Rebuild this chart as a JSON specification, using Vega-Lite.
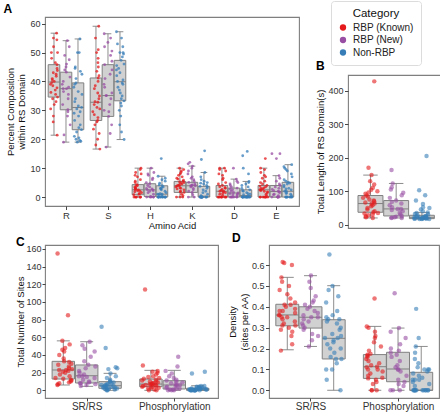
{
  "$schema": "https://vega.github.io/schema/vega-lite/v6.json",
  "padding": {"left": 2, "top": 0, "right": 0, "bottom": 0},
  "background": "white",
  "spacing": 0,
  "config": {
    "font": "Liberation Sans",
    "view": {"stroke": "#7f7f7f", "strokeWidth": 1.1},
    "axis": {"domain": false, "grid": false, "tickColor": "#333333", "tickSize": 3.5, "tickWidth": 0.9, "labelColor": "#333333", "labelFontSize": 9, "labelPadding": 1.5, "labelOverlap": false, "labelSeparation": 0, "titleFontSize": 9.5, "titleFontWeight": "normal", "titleColor": "#111111", "titlePadding": 2},
    "title": {"anchor": "start", "frame": "bounds", "fontSize": 12, "fontWeight": "bold", "color": "#000000", "offset": 2},
    "legend": {"orient": "none", "legendX": 286, "legendY": -16, "titleFontSize": 11.5, "titleFontWeight": "normal", "titleColor": "#111111", "titleAnchor": "middle", "labelFontSize": 10, "labelColor": "#222222", "symbolType": "circle", "symbolSize": 40, "symbolOpacity": 1, "symbolStrokeWidth": 0, "padding": 7, "strokeColor": "#dcdcdc", "fillColor": "white", "cornerRadius": 3, "rowPadding": 2.5, "titlePadding": 3, "labelOffset": 5}
  },
  "vconcat": [
    {
      "spacing": 15,
      "hconcat": [
        {
          "width": 254,
          "height": 189,
          "title": {"text": "A", "dx": -2, "offset": 1},
          "resolve": {"axis": {"x": "independent", "y": "independent"}},
          "layer": [
            {
              "data": {"values": "a,c,lo,q1,md,q3,hi\nR,K,21.4,34.6,39.8,45.8,56.7\nR,N,19.0,30.2,37.5,43.2,54.1\nR,O,19.0,23.3,31.0,39.5,54.7\nS,K,16.6,26.5,32.8,41.2,59.1\nS,N,17.3,27.9,35.1,45.8,56.5\nS,O,19.9,33.3,39.9,47.3,57.2\nH,K,0,0.8,2.5,4.3,10.0\nH,N,0,0.2,2.5,4.6,10.0\nH,O,0,0,1.0,3.9,7.2\nK,K,0,1.6,3.9,5.4,10.0\nK,N,0,1.6,3.9,5.1,10.7\nK,O,0,0,0.3,3.7,8.5\nD,K,0,0,2.0,4.0,10.0\nD,N,0,0,1.4,3.1,6.2\nD,O,0,0,0.5,2.5,5.4\nE,K,0,0,2.5,4.0,10.0\nE,N,0,0,1.9,4.0,7.4\nE,O,0,0,2.0,5.1,11.2", "format": {"type": "csv", "parse": {"lo": "number", "q1": "number", "md": "number", "q3": "number", "hi": "number"}}},
              "transform": [
                {"calculate": "indexof(['R','S','H','K','D','E'], datum.a) + 1 + (datum.c == 'K' ? -0.286 : datum.c == 'N' ? 0 : 0.286)", "as": "xc"},
                {"calculate": "datum.xc - 0.138", "as": "xl"},
                {"calculate": "datum.xc + 0.138", "as": "xr"},
                {"calculate": "datum.xc - 0.08", "as": "cl"},
                {"calculate": "datum.xc + 0.08", "as": "cr"}
              ],
              "resolve": {"axis": {"x": "independent", "y": "independent"}},
              "layer": [
                {"mark": {"type": "rule", "color": "#808080", "strokeWidth": 0.9}, "encoding": {
                  "x": {"field": "xc", "type": "quantitative", "scale": {"domain": [0.5, 6.55], "zero": false, "nice": false}, "axis": {"values": [1, 2, 3, 4, 5, 6], "labelExpr": "['','R','S','H','K','D','E'][datum.value]", "title": "Amino Acid", "labelFontSize": 9.5, "labelPadding": 1, "titlePadding": 0, "labelOverlap": false}},
                  "y": {"field": "lo", "type": "quantitative", "scale": {"domain": [-3.1, 62.3], "zero": false, "nice": false}, "axis": {"values": [0, 10, 20, 30, 40, 50, 60], "title": ["Percent Composition", "within RS Domain"], "titlePadding": 3, "labelOverlap": false}},
                  "y2": {"field": "hi"}}},
                {"mark": {"type": "rule", "color": "#808080", "strokeWidth": 0.9}, "encoding": {
                  "x": {"field": "cl", "type": "quantitative", "scale": {"domain": [0.5, 6.55], "zero": false, "nice": false}, "axis": null},
                  "x2": {"field": "cr"},
                  "y": {"field": "lo", "type": "quantitative", "scale": {"domain": [-3.1, 62.3], "zero": false, "nice": false}, "axis": null}}},
                {"mark": {"type": "rule", "color": "#808080", "strokeWidth": 0.9}, "encoding": {
                  "x": {"field": "cl", "type": "quantitative", "scale": {"domain": [0.5, 6.55], "zero": false, "nice": false}, "axis": null},
                  "x2": {"field": "cr"},
                  "y": {"field": "hi", "type": "quantitative", "scale": {"domain": [-3.1, 62.3], "zero": false, "nice": false}, "axis": null}}},
                {"mark": {"type": "rect", "fill": "#d1d1d1", "stroke": "#808080", "strokeWidth": 1}, "encoding": {
                  "x": {"field": "xl", "type": "quantitative", "scale": {"domain": [0.5, 6.55], "zero": false, "nice": false}, "axis": null},
                  "x2": {"field": "xr"},
                  "y": {"field": "q1", "type": "quantitative", "scale": {"domain": [-3.1, 62.3], "zero": false, "nice": false}, "axis": null},
                  "y2": {"field": "q3"}}},
                {"mark": {"type": "rule", "color": "#808080", "strokeWidth": 1}, "encoding": {
                  "x": {"field": "xl", "type": "quantitative", "scale": {"domain": [0.5, 6.55], "zero": false, "nice": false}, "axis": null},
                  "x2": {"field": "xr"},
                  "y": {"field": "md", "type": "quantitative", "scale": {"domain": [-3.1, 62.3], "zero": false, "nice": false}, "axis": null}}}
              ]
            },
            {
              "data": {"values": "a,c,v\nR,K,21.4\nR,K,26\nR,K,28\nR,K,30.5\nR,K,32\nR,K,33\nR,K,34\nR,K,34.6\nR,K,35.5\nR,K,36.2\nR,K,37\nR,K,37.8\nR,K,38.5\nR,K,39\nR,K,39.6\nR,K,40\nR,K,40.5\nR,K,41\nR,K,41.8\nR,K,42.5\nR,K,43\nR,K,43.8\nR,K,44.5\nR,K,45.8\nR,K,46.5\nR,K,48\nR,K,50\nR,K,50\nR,K,52\nR,K,54.4\nR,K,55\nR,K,56.7\nR,N,19\nR,N,21.5\nR,N,25\nR,N,28\nR,N,29.5\nR,N,30.2\nR,N,32\nR,N,34\nR,N,35.5\nR,N,36.5\nR,N,37.5\nR,N,37.5\nR,N,38\nR,N,39\nR,N,40\nR,N,41.5\nR,N,43.2\nR,N,44\nR,N,45\nR,N,46\nR,N,47.5\nR,N,49\nR,N,52\nR,N,54.1\nR,O,19\nR,O,19.3\nR,O,19.6\nR,O,20\nR,O,20.5\nR,O,21\nR,O,22.5\nR,O,23.3\nR,O,24\nR,O,25\nR,O,26.5\nR,O,28\nR,O,29\nR,O,29.5\nR,O,30.5\nR,O,31\nR,O,31.5\nR,O,33\nR,O,34\nR,O,35.5\nR,O,36.5\nR,O,38\nR,O,39\nR,O,39.5\nR,O,41\nR,O,42.5\nR,O,43.5\nR,O,44.5\nR,O,45\nR,O,50\nR,O,50\nR,O,54.7\nS,K,16.6\nS,K,18\nS,K,20\nS,K,22\nS,K,23.5\nS,K,25\nS,K,26\nS,K,26.5\nS,K,27.5\nS,K,28.5\nS,K,29.5\nS,K,30.5\nS,K,31\nS,K,32\nS,K,32.8\nS,K,33\nS,K,34\nS,K,35\nS,K,36\nS,K,37.5\nS,K,38.5\nS,K,40\nS,K,41.2\nS,K,42\nS,K,43.5\nS,K,45\nS,K,46.5\nS,K,48\nS,K,50\nS,K,51\nS,K,55\nS,K,59.1\nS,N,17.3\nS,N,22\nS,N,25\nS,N,27.9\nS,N,29.5\nS,N,30\nS,N,32\nS,N,34\nS,N,35.1\nS,N,35.1\nS,N,36\nS,N,38\nS,N,39\nS,N,41\nS,N,42.5\nS,N,44\nS,N,45.8\nS,N,47\nS,N,49\nS,N,50.5\nS,N,52\nS,N,53.5\nS,N,55\nS,N,56.5\nS,O,19.9\nS,O,22.5\nS,O,25\nS,O,28\nS,O,30\nS,O,31.5\nS,O,32.5\nS,O,33.3\nS,O,34\nS,O,35\nS,O,36\nS,O,37\nS,O,38\nS,O,39\nS,O,39.5\nS,O,40\nS,O,40.5\nS,O,42\nS,O,43\nS,O,44\nS,O,44.5\nS,O,45.5\nS,O,46\nS,O,47.3\nS,O,48.5\nS,O,49.5\nS,O,50\nS,O,50\nS,O,52\nS,O,53\nS,O,55\nS,O,57.2\nH,K,0\nH,K,0\nH,K,0\nH,K,0\nH,K,0\nH,K,0\nH,K,0\nH,K,0.8\nH,K,1\nH,K,1.2\nH,K,1.5\nH,K,1.8\nH,K,2\nH,K,2.2\nH,K,2.5\nH,K,2.5\nH,K,2.8\nH,K,3\nH,K,3.2\nH,K,3.5\nH,K,3.8\nH,K,4\nH,K,4.3\nH,K,5\nH,K,5.5\nH,K,6\nH,K,7\nH,K,7.5\nH,K,8\nH,K,8.5\nH,K,9.5\nH,K,10\nH,N,0\nH,N,0\nH,N,0\nH,N,0\nH,N,0\nH,N,0.2\nH,N,1\nH,N,1.5\nH,N,2\nH,N,2.2\nH,N,2.5\nH,N,2.5\nH,N,2.8\nH,N,3\nH,N,3.5\nH,N,4\nH,N,4.6\nH,N,5\nH,N,6\nH,N,6.5\nH,N,7.5\nH,N,8\nH,N,8.5\nH,N,10\nH,O,0\nH,O,0\nH,O,0\nH,O,0\nH,O,0\nH,O,0\nH,O,0\nH,O,0\nH,O,0\nH,O,0\nH,O,0\nH,O,0\nH,O,0.5\nH,O,0.8\nH,O,1\nH,O,1\nH,O,1.2\nH,O,1.5\nH,O,2\nH,O,2.5\nH,O,2.8\nH,O,3\nH,O,3.2\nH,O,3.5\nH,O,3.9\nH,O,4.2\nH,O,4.8\nH,O,5.5\nH,O,6\nH,O,6.5\nH,O,7.2\nH,O,13.3\nK,K,0\nK,K,0\nK,K,0\nK,K,0.5\nK,K,1\nK,K,1.6\nK,K,1.8\nK,K,2\nK,K,2.5\nK,K,2.8\nK,K,3\nK,K,3.2\nK,K,3.5\nK,K,3.8\nK,K,3.9\nK,K,4\nK,K,4.2\nK,K,4.5\nK,K,4.8\nK,K,5\nK,K,5.2\nK,K,5.4\nK,K,5.8\nK,K,6.2\nK,K,6.5\nK,K,7\nK,K,7.5\nK,K,8\nK,K,8.5\nK,K,9\nK,K,9.5\nK,K,10\nK,N,0\nK,N,0\nK,N,0.8\nK,N,1.6\nK,N,2\nK,N,2.5\nK,N,3\nK,N,3.5\nK,N,3.9\nK,N,3.9\nK,N,4\nK,N,4.2\nK,N,4.5\nK,N,5.1\nK,N,5.5\nK,N,6\nK,N,6.5\nK,N,7\nK,N,8\nK,N,9\nK,N,10\nK,N,10.7\nK,N,11.5\nK,N,12\nK,O,0\nK,O,0\nK,O,0\nK,O,0\nK,O,0\nK,O,0\nK,O,0\nK,O,0\nK,O,0\nK,O,0\nK,O,0\nK,O,0\nK,O,0\nK,O,0\nK,O,0.5\nK,O,1\nK,O,1.5\nK,O,2\nK,O,2.5\nK,O,3\nK,O,3.5\nK,O,3.7\nK,O,4\nK,O,4.5\nK,O,4.8\nK,O,5\nK,O,5.5\nK,O,6\nK,O,7\nK,O,8.5\nK,O,13\nK,O,16\nD,K,0\nD,K,0\nD,K,0\nD,K,0\nD,K,0\nD,K,0\nD,K,0\nD,K,0\nD,K,0\nD,K,0.5\nD,K,1\nD,K,1.2\nD,K,1.5\nD,K,1.8\nD,K,2\nD,K,2\nD,K,2.3\nD,K,2.6\nD,K,3\nD,K,3.3\nD,K,3.6\nD,K,4\nD,K,4.5\nD,K,5\nD,K,6\nD,K,6.5\nD,K,7.5\nD,K,8\nD,K,9\nD,K,9.5\nD,K,10\nD,K,10\nD,N,0\nD,N,0\nD,N,0\nD,N,0\nD,N,0\nD,N,0\nD,N,0\nD,N,0.5\nD,N,0.8\nD,N,1\nD,N,1.2\nD,N,1.4\nD,N,1.6\nD,N,2\nD,N,2.5\nD,N,2.8\nD,N,3.1\nD,N,3.5\nD,N,4\nD,N,4.5\nD,N,5\nD,N,5.5\nD,N,6.2\nD,N,10\nD,O,0\nD,O,0\nD,O,0\nD,O,0\nD,O,0\nD,O,0\nD,O,0\nD,O,0\nD,O,0\nD,O,0\nD,O,0\nD,O,0\nD,O,0\nD,O,0\nD,O,0.5\nD,O,0.8\nD,O,1\nD,O,1.2\nD,O,1.5\nD,O,2\nD,O,2.2\nD,O,2.5\nD,O,3\nD,O,3.5\nD,O,4\nD,O,4.5\nD,O,5\nD,O,5.4\nD,O,8\nD,O,10\nD,O,14.3\nD,O,15.8\nE,K,0\nE,K,0\nE,K,0\nE,K,0\nE,K,0\nE,K,0\nE,K,0\nE,K,0\nE,K,0.5\nE,K,1\nE,K,1.5\nE,K,1.8\nE,K,2\nE,K,2.2\nE,K,2.5\nE,K,2.5\nE,K,2.8\nE,K,3\nE,K,3.2\nE,K,3.5\nE,K,3.8\nE,K,4\nE,K,4.5\nE,K,5\nE,K,5.5\nE,K,6.5\nE,K,7\nE,K,7.5\nE,K,8.5\nE,K,9.5\nE,K,10\nE,K,13.3\nE,N,0\nE,N,0\nE,N,0\nE,N,0\nE,N,0\nE,N,0\nE,N,0.5\nE,N,0.8\nE,N,1\nE,N,1.5\nE,N,1.9\nE,N,2\nE,N,2.2\nE,N,2.6\nE,N,3\nE,N,3.5\nE,N,4\nE,N,4.5\nE,N,5.5\nE,N,6.5\nE,N,7.4\nE,N,13.3\nE,N,15\nE,N,15\nE,O,0\nE,O,0\nE,O,0\nE,O,0\nE,O,0\nE,O,0\nE,O,0\nE,O,0\nE,O,0\nE,O,0.5\nE,O,1\nE,O,1.2\nE,O,1.5\nE,O,2\nE,O,2\nE,O,2.5\nE,O,2.8\nE,O,3\nE,O,3.5\nE,O,4\nE,O,4.5\nE,O,4.8\nE,O,5.1\nE,O,5.5\nE,O,6\nE,O,7\nE,O,8\nE,O,9\nE,O,9.5\nE,O,10\nE,O,10.5\nE,O,11.2", "format": {"type": "csv", "parse": {"v": "number"}}},
              "transform": [
                {"window": [{"op": "row_number", "as": "rn"}]},
                {"calculate": "indexof(['R','S','H','K','D','E'], datum.a) + 1 + (datum.c == 'K' ? -0.286 : datum.c == 'N' ? 0 : 0.286) + ((abs(sin(datum.rn * 12.9898 + 1.7) * 43758.5453) % 1) - 0.5) * 0.2", "as": "xp"}
              ],
              "mark": {"type": "circle", "size": 8, "opacity": 0.75},
              "encoding": {
                "x": {"field": "xp", "type": "quantitative", "scale": {"domain": [0.5, 6.55], "zero": false, "nice": false}, "axis": null},
                "y": {"field": "v", "type": "quantitative", "scale": {"domain": [-3.1, 62.3], "zero": false, "nice": false}, "axis": null},
                "color": {"field": "c", "type": "nominal", "scale": {"domain": ["K", "N", "O"], "range": ["#E41A1C", "#984EA3", "#377EB8"]}, "legend": {"title": "Category", "labelExpr": "datum.label == 'K' ? 'RBP (Known)' : datum.label == 'N' ? 'RBP (New)' : 'Non-RBP'"}}
              }
            }
          ]
        },
        {
          "spacing": 0,
          "vconcat": [
            {
              "width": 95,
              "height": 42,
              "data": {"values": [{"k": 0}]},
              "mark": {"type": "point", "opacity": 0, "size": 1},
              "encoding": {},
              "view": {"stroke": null}
            },
            {
              "width": 95,
              "height": 153,
              "title": {"text": "B"},
              "resolve": {"axis": {"x": "independent", "y": "independent"}},
              "layer": [
                {
                  "data": {"values": "c,lo,q1,md,q3,hi\nK,20,37,63,87,148\nN,20,26,47,72,123\nO,17,18,22,28,36", "format": {"type": "csv", "parse": {"lo": "number", "q1": "number", "md": "number", "q3": "number", "hi": "number"}}},
                  "transform": [
                    {"calculate": "1 + (datum.c == 'K' ? -0.27 : datum.c == 'N' ? 0 : 0.27)", "as": "xc"},
                    {"calculate": "datum.xc - 0.131", "as": "xl"},
                    {"calculate": "datum.xc + 0.131", "as": "xr"},
                    {"calculate": "datum.xc - 0.076", "as": "cl"},
                    {"calculate": "datum.xc + 0.076", "as": "cr"}
                  ],
                  "resolve": {"axis": {"x": "independent", "y": "independent"}},
                  "layer": [
                    {"mark": {"type": "rule", "color": "#808080", "strokeWidth": 0.9}, "encoding": {
                      "x": {"field": "xc", "type": "quantitative", "scale": {"domain": [0.494, 1.492], "zero": false, "nice": false}, "axis": null},
                      "y": {"field": "lo", "type": "quantitative", "scale": {"domain": [-10, 447], "zero": false, "nice": false}, "axis": {"values": [0, 100, 200, 300, 400], "title": "Total Length of RS Domain(s)", "labelOverlap": false}},
                      "y2": {"field": "hi"}}},
                    {"mark": {"type": "rule", "color": "#808080", "strokeWidth": 0.9}, "encoding": {
                      "x": {"field": "cl", "type": "quantitative", "scale": {"domain": [0.494, 1.492], "zero": false, "nice": false}, "axis": null},
                      "x2": {"field": "cr"},
                      "y": {"field": "lo", "type": "quantitative", "scale": {"domain": [-10, 447], "zero": false, "nice": false}, "axis": null}}},
                    {"mark": {"type": "rule", "color": "#808080", "strokeWidth": 0.9}, "encoding": {
                      "x": {"field": "cl", "type": "quantitative", "scale": {"domain": [0.494, 1.492], "zero": false, "nice": false}, "axis": null},
                      "x2": {"field": "cr"},
                      "y": {"field": "hi", "type": "quantitative", "scale": {"domain": [-10, 447], "zero": false, "nice": false}, "axis": null}}},
                    {"mark": {"type": "rect", "fill": "#d1d1d1", "stroke": "#808080", "strokeWidth": 1}, "encoding": {
                      "x": {"field": "xl", "type": "quantitative", "scale": {"domain": [0.494, 1.492], "zero": false, "nice": false}, "axis": null},
                      "x2": {"field": "xr"},
                      "y": {"field": "q1", "type": "quantitative", "scale": {"domain": [-10, 447], "zero": false, "nice": false}, "axis": null},
                      "y2": {"field": "q3"}}},
                    {"mark": {"type": "rule", "color": "#808080", "strokeWidth": 1}, "encoding": {
                      "x": {"field": "xl", "type": "quantitative", "scale": {"domain": [0.494, 1.492], "zero": false, "nice": false}, "axis": null},
                      "x2": {"field": "xr"},
                      "y": {"field": "md", "type": "quantitative", "scale": {"domain": [-10, 447], "zero": false, "nice": false}, "axis": null}}}
                  ]
                },
                {
                  "data": {"values": "c,v\nK,20\nK,22\nK,25\nK,28\nK,30\nK,33\nK,35\nK,37\nK,40\nK,45\nK,50\nK,55\nK,58\nK,63\nK,63\nK,66\nK,70\nK,72\nK,75\nK,80\nK,84\nK,87\nK,92\nK,96\nK,100\nK,104\nK,110\nK,120\nK,130\nK,148\nK,170\nK,428\nN,20\nN,20\nN,21\nN,22\nN,24\nN,26\nN,30\nN,35\nN,40\nN,44\nN,47\nN,47\nN,52\nN,58\nN,63\nN,68\nN,72\nN,80\nN,88\nN,95\nN,105\nN,112\nN,123\nN,163\nO,17\nO,17\nO,17\nO,18\nO,18\nO,18\nO,18\nO,19\nO,19\nO,20\nO,20\nO,21\nO,22\nO,22\nO,23\nO,24\nO,25\nO,26\nO,28\nO,30\nO,32\nO,35\nO,36\nO,40\nO,45\nO,50\nO,52\nO,62\nO,72\nO,88\nO,103\nO,205", "format": {"type": "csv", "parse": {"v": "number"}}},
                  "transform": [
                    {"window": [{"op": "row_number", "as": "rn"}]},
                    {"calculate": "1 + (datum.c == 'K' ? -0.27 : datum.c == 'N' ? 0 : 0.27) + ((abs(sin(datum.rn * 12.9898 + 4.1) * 43758.5453) % 1) - 0.5) * 0.16", "as": "xp"}
                  ],
                  "mark": {"type": "circle", "size": 20, "opacity": 0.6},
                  "encoding": {
                    "x": {"field": "xp", "type": "quantitative", "scale": {"domain": [0.494, 1.492], "zero": false, "nice": false}, "axis": null},
                    "y": {"field": "v", "type": "quantitative", "scale": {"domain": [-10, 447], "zero": false, "nice": false}, "axis": null},
                    "color": {"field": "c", "type": "nominal", "scale": {"domain": ["K", "N", "O"], "range": ["#E41A1C", "#984EA3", "#377EB8"]}, "legend": {"title": "Category", "labelExpr": "datum.label == 'K' ? 'RBP (Known)' : datum.label == 'N' ? 'RBP (New)' : 'Non-RBP'"}}
                  }
                }
              ]
            }
          ]
        }
      ]
    },
    {
      "spacing": 8,
      "hconcat": [
        {
          "width": 173,
          "height": 153,
          "title": {"text": "C", "offset": -4.5},
          "resolve": {"axis": {"x": "independent", "y": "independent"}},
          "layer": [
            {
              "data": {"values": "g,c,lo,q1,md,q3,hi\nS,K,6,12.8,23,32.8,56\nS,N,4.5,8.3,16.5,28.7,55\nS,O,0,2.3,5.2,9.8,19.2\nP,K,0,4.1,7.1,12.8,22.6\nP,N,0,1.5,6,10.9,22.6\nP,O,0,0,1,2.3,5.2", "format": {"type": "csv", "parse": {"lo": "number", "q1": "number", "md": "number", "q3": "number", "hi": "number"}}},
              "transform": [
                {"calculate": "(datum.g == 'S' ? 1 : 2) + (datum.c == 'K' ? -0.267 : datum.c == 'N' ? 0 : 0.267)", "as": "xc"},
                {"calculate": "datum.xc - 0.128", "as": "xl"},
                {"calculate": "datum.xc + 0.128", "as": "xr"},
                {"calculate": "datum.xc - 0.074", "as": "cl"},
                {"calculate": "datum.xc + 0.074", "as": "cr"}
              ],
              "resolve": {"axis": {"x": "independent", "y": "independent"}},
              "layer": [
                {"mark": {"type": "rule", "color": "#808080", "strokeWidth": 0.9}, "encoding": {
                  "x": {"field": "xc", "type": "quantitative", "scale": {"domain": [0.524, 2.499], "zero": false, "nice": false}, "axis": {"values": [1, 2], "labelExpr": "datum.value == 1 ? 'SR/RS' : 'Phosphorylation'", "title": null, "labelFontSize": 10, "labelPadding": 0.5, "tickSize": 3, "labelOverlap": false}},
                  "y": {"field": "lo", "type": "quantitative", "scale": {"domain": [-8.7, 164.5], "zero": false, "nice": false}, "axis": {"values": [0, 20, 40, 60, 80, 100, 120, 140, 160], "title": "Total Number of Sites", "titlePadding": 0, "labelPadding": 1, "tickSize": 3, "labelOverlap": false}},
                  "y2": {"field": "hi"}}},
                {"mark": {"type": "rule", "color": "#808080", "strokeWidth": 0.9}, "encoding": {
                  "x": {"field": "cl", "type": "quantitative", "scale": {"domain": [0.524, 2.499], "zero": false, "nice": false}, "axis": null},
                  "x2": {"field": "cr"},
                  "y": {"field": "lo", "type": "quantitative", "scale": {"domain": [-8.7, 164.5], "zero": false, "nice": false}, "axis": null}}},
                {"mark": {"type": "rule", "color": "#808080", "strokeWidth": 0.9}, "encoding": {
                  "x": {"field": "cl", "type": "quantitative", "scale": {"domain": [0.524, 2.499], "zero": false, "nice": false}, "axis": null},
                  "x2": {"field": "cr"},
                  "y": {"field": "hi", "type": "quantitative", "scale": {"domain": [-8.7, 164.5], "zero": false, "nice": false}, "axis": null}}},
                {"mark": {"type": "rect", "fill": "#d1d1d1", "stroke": "#808080", "strokeWidth": 1}, "encoding": {
                  "x": {"field": "xl", "type": "quantitative", "scale": {"domain": [0.524, 2.499], "zero": false, "nice": false}, "axis": null},
                  "x2": {"field": "xr"},
                  "y": {"field": "q1", "type": "quantitative", "scale": {"domain": [-8.7, 164.5], "zero": false, "nice": false}, "axis": null},
                  "y2": {"field": "q3"}}},
                {"mark": {"type": "rule", "color": "#808080", "strokeWidth": 1}, "encoding": {
                  "x": {"field": "xl", "type": "quantitative", "scale": {"domain": [0.524, 2.499], "zero": false, "nice": false}, "axis": null},
                  "x2": {"field": "xr"},
                  "y": {"field": "md", "type": "quantitative", "scale": {"domain": [-8.7, 164.5], "zero": false, "nice": false}, "axis": null}}}
              ]
            },
            {
              "data": {"values": "g,c,v\nS,K,6\nS,K,7\nS,K,8\nS,K,9\nS,K,10\nS,K,11\nS,K,12\nS,K,13\nS,K,14\nS,K,16\nS,K,18\nS,K,20\nS,K,21\nS,K,22\nS,K,23\nS,K,23\nS,K,24\nS,K,25\nS,K,27\nS,K,29\nS,K,30\nS,K,32\nS,K,33\nS,K,36\nS,K,40\nS,K,44\nS,K,46\nS,K,48\nS,K,52\nS,K,56\nS,K,85\nS,K,155\nS,N,5\nS,N,6\nS,N,7\nS,N,8\nS,N,8\nS,N,9\nS,N,10\nS,N,12\nS,N,14\nS,N,15\nS,N,16\nS,N,16\nS,N,18\nS,N,20\nS,N,22\nS,N,25\nS,N,27\nS,N,29\nS,N,33\nS,N,38\nS,N,44\nS,N,47\nS,N,51\nS,N,55\nS,O,0\nS,O,0\nS,O,1\nS,O,1\nS,O,2\nS,O,2\nS,O,2\nS,O,3\nS,O,3\nS,O,3\nS,O,4\nS,O,4\nS,O,5\nS,O,5\nS,O,5\nS,O,6\nS,O,6\nS,O,7\nS,O,7\nS,O,8\nS,O,9\nS,O,10\nS,O,10\nS,O,12\nS,O,14\nS,O,16\nS,O,19\nS,O,24\nS,O,25\nS,O,26\nS,O,48\nS,O,72\nP,K,0\nP,K,0\nP,K,1\nP,K,2\nP,K,3\nP,K,3\nP,K,4\nP,K,4\nP,K,5\nP,K,5\nP,K,6\nP,K,6\nP,K,7\nP,K,7\nP,K,7\nP,K,8\nP,K,8\nP,K,9\nP,K,10\nP,K,10\nP,K,11\nP,K,12\nP,K,13\nP,K,14\nP,K,15\nP,K,16\nP,K,18\nP,K,20\nP,K,21\nP,K,22\nP,K,28\nP,K,114\nP,N,0\nP,N,0\nP,N,0\nP,N,1\nP,N,1\nP,N,2\nP,N,2\nP,N,3\nP,N,4\nP,N,5\nP,N,6\nP,N,6\nP,N,7\nP,N,8\nP,N,9\nP,N,10\nP,N,11\nP,N,12\nP,N,14\nP,N,16\nP,N,19\nP,N,22\nP,N,27\nP,N,38\nP,O,0\nP,O,0\nP,O,0\nP,O,0\nP,O,0\nP,O,0\nP,O,0\nP,O,0\nP,O,0\nP,O,1\nP,O,1\nP,O,1\nP,O,1\nP,O,1\nP,O,1\nP,O,1\nP,O,1\nP,O,2\nP,O,2\nP,O,2\nP,O,2\nP,O,2\nP,O,2\nP,O,3\nP,O,3\nP,O,3\nP,O,4\nP,O,4\nP,O,5\nP,O,5\nP,O,19\nP,O,21", "format": {"type": "csv", "parse": {"v": "number"}}},
              "transform": [
                {"window": [{"op": "row_number", "as": "rn"}]},
                {"calculate": "(datum.g == 'S' ? 1 : 2) + (datum.c == 'K' ? -0.267 : datum.c == 'N' ? 0 : 0.267) + ((abs(sin(datum.rn * 12.9898 + 7.3) * 43758.5453) % 1) - 0.5) * 0.2", "as": "xp"}
              ],
              "mark": {"type": "circle", "size": 20, "opacity": 0.6},
              "encoding": {
                "x": {"field": "xp", "type": "quantitative", "scale": {"domain": [0.524, 2.499], "zero": false, "nice": false}, "axis": null},
                "y": {"field": "v", "type": "quantitative", "scale": {"domain": [-8.7, 164.5], "zero": false, "nice": false}, "axis": null},
                "color": {"field": "c", "type": "nominal", "scale": {"domain": ["K", "N", "O"], "range": ["#E41A1C", "#984EA3", "#377EB8"]}, "legend": {"title": "Category", "labelExpr": "datum.label == 'K' ? 'RBP (Known)' : datum.label == 'N' ? 'RBP (New)' : 'Non-RBP'"}}
              }
            }
          ]
        },
        {
          "width": 170,
          "height": 153,
          "title": {"text": "D", "dx": 4, "offset": 0},
          "resolve": {"axis": {"x": "independent", "y": "independent"}},
          "layer": [
            {
              "data": {"values": "g,c,lo,q1,md,q3,hi\nS,K,0.194,0.309,0.361,0.412,0.541\nS,N,0.21,0.298,0.35,0.4,0.549\nS,O,0,0.15,0.249,0.338,0.501\nP,K,0,0.057,0.113,0.171,0.306\nP,N,0,0.041,0.102,0.182,0.298\nP,O,0,0,0,0.086,0.21", "format": {"type": "csv", "parse": {"lo": "number", "q1": "number", "md": "number", "q3": "number", "hi": "number"}}},
              "transform": [
                {"calculate": "(datum.g == 'S' ? 1 : 2) + (datum.c == 'K' ? -0.265 : datum.c == 'N' ? 0 : 0.265)", "as": "xc"},
                {"calculate": "datum.xc - 0.131", "as": "xl"},
                {"calculate": "datum.xc + 0.131", "as": "xr"},
                {"calculate": "datum.xc - 0.074", "as": "cl"},
                {"calculate": "datum.xc + 0.074", "as": "cr"}
              ],
              "resolve": {"axis": {"x": "independent", "y": "independent"}},
              "layer": [
                {"mark": {"type": "rule", "color": "#808080", "strokeWidth": 0.9}, "encoding": {
                  "x": {"field": "xc", "type": "quantitative", "scale": {"domain": [0.526, 2.468], "zero": false, "nice": false}, "axis": {"values": [1, 2], "labelExpr": "datum.value == 1 ? 'SR/RS' : 'Phosphorylation'", "title": null, "labelFontSize": 10, "labelPadding": 0.5, "tickSize": 3, "labelOverlap": false}},
                  "y": {"field": "lo", "type": "quantitative", "scale": {"domain": [-0.037, 0.696], "zero": false, "nice": false}, "axis": {"values": [0, 0.1, 0.2, 0.3, 0.4, 0.5, 0.6], "format": ".1f", "title": ["Density", "(sites per AA)"], "labelOverlap": false}},
                  "y2": {"field": "hi"}}},
                {"mark": {"type": "rule", "color": "#808080", "strokeWidth": 0.9}, "encoding": {
                  "x": {"field": "cl", "type": "quantitative", "scale": {"domain": [0.526, 2.468], "zero": false, "nice": false}, "axis": null},
                  "x2": {"field": "cr"},
                  "y": {"field": "lo", "type": "quantitative", "scale": {"domain": [-0.037, 0.696], "zero": false, "nice": false}, "axis": null}}},
                {"mark": {"type": "rule", "color": "#808080", "strokeWidth": 0.9}, "encoding": {
                  "x": {"field": "cl", "type": "quantitative", "scale": {"domain": [0.526, 2.468], "zero": false, "nice": false}, "axis": null},
                  "x2": {"field": "cr"},
                  "y": {"field": "hi", "type": "quantitative", "scale": {"domain": [-0.037, 0.696], "zero": false, "nice": false}, "axis": null}}},
                {"mark": {"type": "rect", "fill": "#d1d1d1", "stroke": "#808080", "strokeWidth": 1}, "encoding": {
                  "x": {"field": "xl", "type": "quantitative", "scale": {"domain": [0.526, 2.468], "zero": false, "nice": false}, "axis": null},
                  "x2": {"field": "xr"},
                  "y": {"field": "q1", "type": "quantitative", "scale": {"domain": [-0.037, 0.696], "zero": false, "nice": false}, "axis": null},
                  "y2": {"field": "q3"}}},
                {"mark": {"type": "rule", "color": "#808080", "strokeWidth": 1}, "encoding": {
                  "x": {"field": "xl", "type": "quantitative", "scale": {"domain": [0.526, 2.468], "zero": false, "nice": false}, "axis": null},
                  "x2": {"field": "xr"},
                  "y": {"field": "md", "type": "quantitative", "scale": {"domain": [-0.037, 0.696], "zero": false, "nice": false}, "axis": null}}}
              ]
            },
            {
              "data": {"values": "g,c,v\nS,K,0.19\nS,K,0.22\nS,K,0.26\nS,K,0.28\nS,K,0.29\nS,K,0.3\nS,K,0.31\nS,K,0.31\nS,K,0.32\nS,K,0.33\nS,K,0.34\nS,K,0.35\nS,K,0.35\nS,K,0.36\nS,K,0.36\nS,K,0.37\nS,K,0.38\nS,K,0.38\nS,K,0.39\nS,K,0.4\nS,K,0.41\nS,K,0.41\nS,K,0.42\nS,K,0.44\nS,K,0.46\nS,K,0.48\nS,K,0.5\nS,K,0.52\nS,K,0.54\nS,K,0.6\nS,K,0.61\nS,K,0.615\nS,N,0.21\nS,N,0.24\nS,N,0.26\nS,N,0.27\nS,N,0.29\nS,N,0.3\nS,N,0.31\nS,N,0.32\nS,N,0.33\nS,N,0.34\nS,N,0.35\nS,N,0.35\nS,N,0.36\nS,N,0.37\nS,N,0.38\nS,N,0.39\nS,N,0.4\nS,N,0.41\nS,N,0.42\nS,N,0.43\nS,N,0.45\nS,N,0.49\nS,N,0.52\nS,N,0.55\nS,O,0\nS,O,0.05\nS,O,0.1\nS,O,0.1\nS,O,0.13\nS,O,0.15\nS,O,0.15\nS,O,0.16\nS,O,0.18\nS,O,0.2\nS,O,0.2\nS,O,0.22\nS,O,0.23\nS,O,0.24\nS,O,0.25\nS,O,0.25\nS,O,0.26\nS,O,0.27\nS,O,0.29\nS,O,0.3\nS,O,0.32\nS,O,0.33\nS,O,0.34\nS,O,0.34\nS,O,0.35\nS,O,0.36\nS,O,0.38\nS,O,0.42\nS,O,0.45\nS,O,0.48\nS,O,0.5\nS,O,0.65\nP,K,0\nP,K,0\nP,K,0\nP,K,0.03\nP,K,0.04\nP,K,0.05\nP,K,0.057\nP,K,0.06\nP,K,0.07\nP,K,0.08\nP,K,0.09\nP,K,0.1\nP,K,0.1\nP,K,0.11\nP,K,0.113\nP,K,0.12\nP,K,0.13\nP,K,0.14\nP,K,0.15\nP,K,0.16\nP,K,0.165\nP,K,0.17\nP,K,0.175\nP,K,0.19\nP,K,0.21\nP,K,0.23\nP,K,0.25\nP,K,0.26\nP,K,0.28\nP,K,0.3\nP,K,0.306\nP,K,0.44\nP,N,0\nP,N,0\nP,N,0\nP,N,0.02\nP,N,0.03\nP,N,0.04\nP,N,0.05\nP,N,0.07\nP,N,0.09\nP,N,0.1\nP,N,0.1\nP,N,0.11\nP,N,0.12\nP,N,0.14\nP,N,0.16\nP,N,0.17\nP,N,0.18\nP,N,0.19\nP,N,0.2\nP,N,0.22\nP,N,0.25\nP,N,0.28\nP,N,0.298\nP,N,0.465\nP,O,0\nP,O,0\nP,O,0\nP,O,0\nP,O,0\nP,O,0\nP,O,0\nP,O,0\nP,O,0\nP,O,0\nP,O,0\nP,O,0\nP,O,0.02\nP,O,0.03\nP,O,0.04\nP,O,0.05\nP,O,0.05\nP,O,0.05\nP,O,0.06\nP,O,0.07\nP,O,0.08\nP,O,0.09\nP,O,0.1\nP,O,0.1\nP,O,0.1\nP,O,0.11\nP,O,0.13\nP,O,0.15\nP,O,0.18\nP,O,0.21\nP,O,0.25\nP,O,0.39", "format": {"type": "csv", "parse": {"v": "number"}}},
              "transform": [
                {"window": [{"op": "row_number", "as": "rn"}]},
                {"calculate": "(datum.g == 'S' ? 1 : 2) + (datum.c == 'K' ? -0.265 : datum.c == 'N' ? 0 : 0.265) + ((abs(sin(datum.rn * 12.9898 + 2.9) * 43758.5453) % 1) - 0.5) * 0.2", "as": "xp"}
              ],
              "mark": {"type": "circle", "size": 20, "opacity": 0.6},
              "encoding": {
                "x": {"field": "xp", "type": "quantitative", "scale": {"domain": [0.526, 2.468], "zero": false, "nice": false}, "axis": null},
                "y": {"field": "v", "type": "quantitative", "scale": {"domain": [-0.037, 0.696], "zero": false, "nice": false}, "axis": null},
                "color": {"field": "c", "type": "nominal", "scale": {"domain": ["K", "N", "O"], "range": ["#E41A1C", "#984EA3", "#377EB8"]}, "legend": {"title": "Category", "labelExpr": "datum.label == 'K' ? 'RBP (Known)' : datum.label == 'N' ? 'RBP (New)' : 'Non-RBP'"}}
              }
            }
          ]
        }
      ]
    }
  ]
}
